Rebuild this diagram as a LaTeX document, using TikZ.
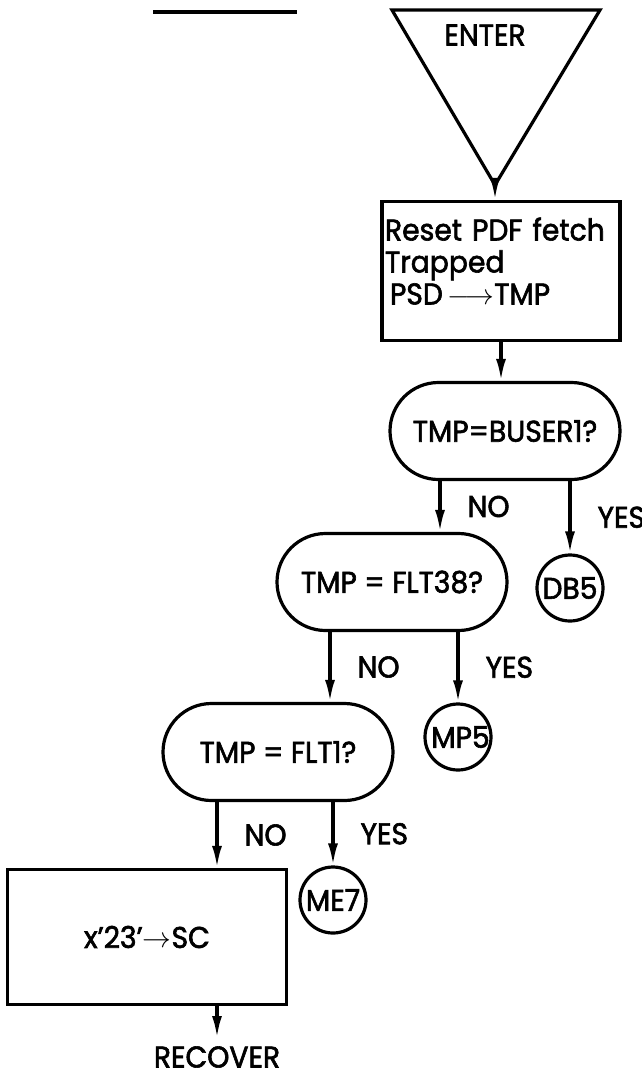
\documentclass[tikz,border=0pt]{standalone}
\usepackage{fontspec}
\setmainfont{Poppins}[FakeBold=2,FakeStretch=0.94]
\usetikzlibrary{arrows.meta,shapes.misc}

\begin{document}
\begin{tikzpicture}[x=.5pt,y=-.5pt,line width=1.6pt,
    font=\fontsize{15}{16}\selectfont,
    test/.style={draw,rounded rectangle,minimum width=115pt,minimum height=48.5pt,inner sep=0pt},
    stop/.style={draw,circle,minimum size=33pt,inner sep=0pt},
    flow/.style={-{Latex[length=11pt,width=5pt]}},
    yn/.style={right=13pt,inner sep=0pt}]
  \useasboundingbox (0,0) rectangle (642,1077);
  % title rule (text cut off)
  \draw[line width=2.2pt] (153,12)--(297,12);
  % entry
  \draw (392,10)--(600,10)--(495,185)--cycle;
  \coordinate (apex) at (495,185);
  \node (enter) at (485,35) {ENTER};
  \node[draw,minimum width=119pt,minimum height=69.5pt,inner sep=1.5pt,text width=116pt,align=left] (reset) at (501,271)
    {Reset PDF fetch\\Trapped\\\,PSD\,$\longrightarrow$TMP\\[-6pt]\mbox{}};
  % tests
  \node[test] (buser) at (505,431) {TMP=BUSER1?};
  \node[test] (flta) at (392,582) {TMP = FLT38?};
  \node[test] (fltb) at (278,752) {TMP = FLT1?};
  \node[stop] (db5) at (570,588) {\makebox[0pt]{DB5}};
  \node[stop] (mp5) at (458,737) {\makebox[0pt]{\,MP5}};
  \node[stop] (me7) at (333,900) {\makebox[0pt]{ME7}};
  \node[draw,minimum width=139.5pt,minimum height=67.5pt] (sc) at (147,937) {x'23'$\rightarrow$SC};
  \node (recover) at (217,1057) {RECOVER};
  \coordinate (no1) at ([xshift=-32.5pt]buser.south);
  \coordinate (no2) at ([xshift=-31pt]flta.south);
  \coordinate (no3) at ([xshift=-30.5pt]fltb.south);
  % connectors
  \draw[flow] (apex) -- (apex |- reset.north);
  \draw[flow] (reset.south) -- (reset.south |- buser.north);
  \draw[flow] (no1) -- node[yn]{NO} (no1 |- flta.north);
  \draw[flow] (buser.south -| db5.north) -- node[yn]{YES} (db5.north);
  \draw[flow] (no2) -- node[yn]{NO} (no2 |- fltb.north);
  \draw[flow] (flta.south -| mp5.north) -- node[yn]{YES} (mp5.north);
  \draw[flow] (no3) -- node[yn]{NO} (no3 |- sc.north);
  \draw[flow] (fltb.south -| me7.north) -- node[yn]{YES} (me7.north);
  \draw[flow] (recover.north |- sc.south) -- (recover.north);
\end{tikzpicture}
\end{document}
